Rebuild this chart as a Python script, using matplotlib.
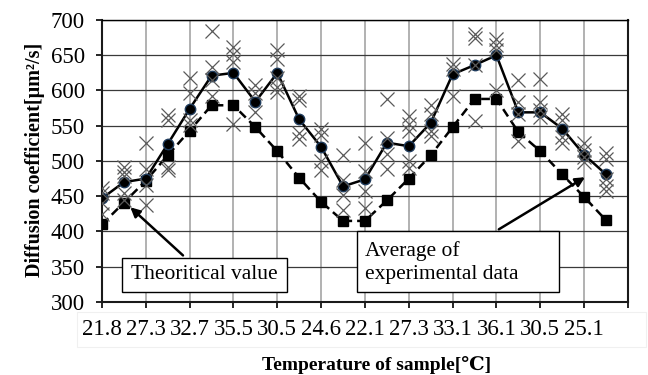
import matplotlib.pyplot as plt
from matplotlib.patches import Rectangle

plt.rcParams['font.family'] = ['Liberation Serif', 'DejaVu Serif']

temp_labels = ["21.8", "27.3", "32.7", "35.5", "30.5", "24.6",
               "22.1", "27.3", "33.1", "36.1", "30.5", "25.1"]

theoretical = [410, 441, 472, 508, 543, 579, 579, 548, 514, 476, 442, 415,
               415, 444, 475, 508, 548, 588, 588, 541, 514, 481, 449, 416]

average = [447, 470, 475, 524, 574, 621, 625, 584, 625, 559, 520, 464,
           474, 526, 521, 554, 623, 636, 650, 569, 569, 546, 509, 481]

experimental = [
    [462, 455, 440, 425],
    [492, 485, 478, 455, 445],
    [526, 488, 466, 437],
    [565, 558, 492, 487],
    [618, 597, 558, 551],
    [684, 633, 615, 592],
    [662, 652, 640, 552],
    [608, 596, 569],
    [657, 645, 618, 605, 598],
    [592, 587, 540, 531],
    [546, 537, 500, 487],
    [509, 473, 452, 430],
    [526, 486, 458, 434],
    [588, 532, 510, 488],
    [564, 553, 542, 500, 490],
    [579, 567, 543, 535],
    [638, 630, 592],
    [680, 674, 636, 557],
    [673, 665, 658, 600],
    [615, 583, 566, 528],
    [617, 583, 572, 563],
    [567, 558, 534, 525],
    [525, 516, 505, 498],
    [512, 503, 474, 465, 457],
]

x = list(range(len(average)))

fig = plt.figure(figsize=(6.48, 3.75), dpi=100)
ax = fig.add_axes([0.1574, 0.1947, 0.8116, 0.752])

# faint frame around the category labels
fig.patches.append(Rectangle((77 / 648, 1 - 347 / 375), (646 - 77) / 648, 35 / 375,
                             transform=fig.transFigure, fill=False,
                             edgecolor="#f0f0f0", linewidth=0.8))

for i, vals in enumerate(experimental):
    ax.plot([i] * len(vals), vals, linestyle="none", marker="x", markersize=9.5,
            markeredgewidth=0.9, color="#5a5a5a", zorder=4)

ax.plot(x, theoretical, color="black", linestyle=(0, (3.5, 2)), linewidth=1.8,
        marker="s", markersize=7, zorder=3)
ax.plot(x, average, color="black", linewidth=1.8, marker="o", markersize=7.5,
        markerfacecolor="black", markeredgecolor="#1f3b5c", markeredgewidth=1,
        zorder=3)

ax.set_xlim(0, 24)
ax.set_ylim(300, 700)
ax.set_yticks(range(300, 701, 50))
ax.set_xticks(range(0, 25, 2))
ax.set_xticklabels(temp_labels + [""])

ax.yaxis.grid(True, color="#3a3a3a", linewidth=0.9)
ax.xaxis.grid(True, color="#ababab", linewidth=1.3)
ax.set_axisbelow(True)

for side in ["left", "bottom", "right"]:
    ax.spines[side].set_linewidth(1.5)
    ax.spines[side].set_color("#1a1a1a")
ax.spines["top"].set_linewidth(1.0)

ax.tick_params(axis="both", direction="out", length=4.5, width=1.2,
               labelsize=16.5, pad=8)

ax.set_xlabel("Temperature of sample[℃]", fontsize=14, fontweight="bold", va="center")
ax.xaxis.set_label_coords(0.523, -0.222)
ax.set_ylabel("Diffusion coefficient[μm²/s]", fontsize=14.5, fontweight="bold", va="center")
ax.yaxis.set_label_coords(-0.127, 0.505)

# annotation boxes
ax.add_patch(Rectangle((0.9, 314.7), 7.53, 48.3, facecolor="white",
                       edgecolor="black", linewidth=1.0, zorder=5))
ax.text(4.66, 339, "Theoritical value", ha="center", va="center",
        fontsize=15.5, zorder=6)
ax.annotate("", xy=(1.2, 437), xytext=(3.79, 363.4),
            arrowprops=dict(arrowstyle="-|>", color="black", lw=1.8,
                            mutation_scale=14), zorder=6)

ax.add_patch(Rectangle((11.63, 314.0), 9.22, 87.0, facecolor="white",
                       edgecolor="black", linewidth=1.0, zorder=5))
ax.text(12.0, 356, "Average of\nexperimental data", ha="left", va="center",
        fontsize=15.5, linespacing=1.25, zorder=6)
ax.annotate("", xy=(22.15, 479), xytext=(18.0, 401),
            arrowprops=dict(arrowstyle="-|>", color="black", lw=1.8,
                            mutation_scale=14), zorder=6)

fig.savefig("out.png", dpi=100)
